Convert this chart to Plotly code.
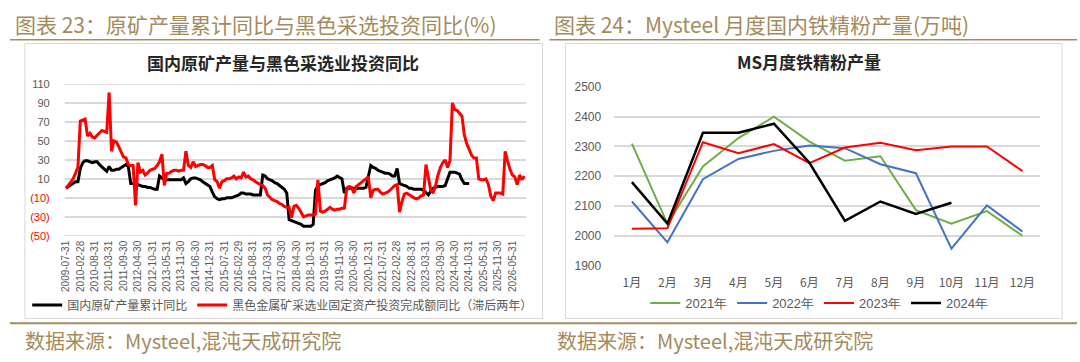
import calendar
import plotly.graph_objects as go

# ---------------- data: left chart ----------------
# monthly categories (Chinese stats skip January, except 2026 in the source file)
def month_end(y, m):
    return f"{y}-{m:02d}-{calendar.monthrange(y, m)[1]:02d}"

dates = []
for yy in range(2009, 2027):
    for mm in range(1, 13):
        if (yy, mm) < (2009, 7) or (yy, mm) > (2026, 10):
            continue
        if mm == 1 and yy != 2026:
            continue
        dates.append(month_end(yy, mm))

tick_labels = ["2009-07-31", "2010-02-28", "2010-08-31", "2011-03-31", "2011-09-30",
               "2012-04-30", "2012-10-31", "2013-05-31", "2013-11-30", "2014-06-30",
               "2014-12-31", "2015-07-31", "2016-02-29", "2016-08-31", "2017-03-31",
               "2017-09-30", "2018-04-30", "2018-10-31", "2019-05-31", "2019-11-30",
               "2020-06-30", "2020-12-31", "2021-07-31", "2022-02-28", "2022-08-31",
               "2023-03-31", "2023-09-30", "2024-04-30", "2024-10-31", "2025-05-31",
               "2025-11-30", "2026-05-31"]

ore_output_yoy = [
    0, 2, 4, 6, 7, 7,
    21, 27, 29, 29, 28, 27, 28, 28, 25, 23, 21,
    18, 23, 19, 19, 20, 20, 22, 23, 25, 23, 5,
    5, 5, 4, 3, 2, 2, 1, 1, 0, -1, -1,
    13, 11, 9, 9, 9, 9, 9, 9, 9, 9, 11,
    5, 7, 10, 11, 11, 10, 9, 7, 5, 3, 2,
    -4, -9, -11, -12, -11, -11, -10, -10, -10, -9, -8,
    -7, -5, -5, -6, -6, -6, -7, -7, -7, -7, 14,
    13, 10, 9, 8, 6, 5, 3, 1, -1, -5, -33,
    -34, -35, -36, -37, -38, -40, -40, -40, -40, -38, -2,
    3, 4, 5, 6, 8, 9, 10, 11, 13, 11, 10,
    -5, 0, 0, 0, 0, 0, 0, 0, 0, 1, 12,
    24, 22, 21, 19, 18, 17, 16, 16, 15, 13, 13,
    21, 5, 4, 3, 2, 0, 0, -1, -1, -1, -1,
    -2, -5, -7, -3, 0, 1, 2, 2, 2, 3, 10,
    17, 17, 17, 16, 15, 9, 5, 5, 5,
]

ferrous_invest_yoy = [
    0, 3, 6, 10, 16, 22,
    71, 72, 73, 55, 58, 54, 53, 56, 59, 61, 60,
    59, 101, 39, 50, 49, 44, 39, 33, 32, 25, 24,
    24, -18, 27, 17, 19, 14, 16, 19, 20, 21, 24,
    28, 36, 3, 16, 16, 18, 19, 19, 18, 19, 19,
    39, 24, 22, 28, 23, 24, 25, 25, 24, 22, 22,
    24, 9, 7, 0, 7, 8, 10, 10, 11, 13, 10,
    12, 11, 17, 12, 13, 10, 9, 7, 5, 4, 3,
    0, -7, -10, -12, -13, -14, -16, -17, -19, -20, -20,
    -31, -19, -18, -21, -25, -30, -29, -28, -28, -28, -27,
    9, -24, -25, -24, -22, -20, -22, -23, -22, -22, -21,
    -21, 0, 2, 1, -5, 2, 4, 5, 8, 9, 12,
    -10, -2, -1, -1, -4, -6, -5, -4, -2, 1, 3,
    4, -25, -14, -6, -5, -7, -9, -10, -11, -10, -8,
    -7, 25, 9, -2, -5, 3, 14, 22, 27, 30, 22,
    29, 90, 83, 82, 79, 76, 56, 47, 41, 35, 32,
    32, 10, 9, 9, 10, 4, -8, -13, -5, -5,
    -5, -6, 39, 29, 20, 14, 12, 4, 14, 9, 13,
]

left_yticks = [-50, -30, -10, 10, 30, 50, 70, 90, 110]

# ---------------- data: right chart ----------------
months = ["1月", "2月", "3月", "4月", "5月", "6月", "7月", "8月", "9月", "10月", "11月", "12月"]
y2021 = [2309, 2040, 2233, 2328, 2400, 2316, 2252, 2267, 2086, 2041, 2083, 2000]
y2022 = [2115, 1978, 2190, 2258, 2285, 2303, 2294, 2240, 2210, 1957, 2102, 2014]
y2023 = [2024, 2025, 2314, 2277, 2308, 2244, 2296, 2312, 2287, 2300, 2300, 2217]
y2024 = [2180, 2041, 2346, 2346, 2376, 2245, 2050, 2115, 2073, 2111]
right_yticks = [1900, 2000, 2100, 2200, 2300, 2400, 2500]

# ---------------- figure ----------------
W, H = 1080, 362
def px(x):
    return x / W
def py(y):
    return 1 - y / H

GOLD = "#A58A5C"
GRID = "#D9D9D9"
TXT = "#595959"
CJK = "Noto Sans CJK SC"
AX_FONT = dict(family="Liberation Sans, Arial", size=11, color=TXT)

fig = go.Figure()

fig.add_trace(go.Scatter(
    x=dates[:len(ore_output_yoy)], y=ore_output_yoy, mode="lines",
    name="国内原矿产量累计同比", line=dict(color="#000000", width=3),
    xaxis="x", yaxis="y", legend="legend"))
fig.add_trace(go.Scatter(
    x=dates[:len(ferrous_invest_yoy)], y=ferrous_invest_yoy, mode="lines",
    name="黑色金属矿采选业固定资产投资完成额同比（滞后两年）",
    line=dict(color="#FF0000", width=3),
    xaxis="x", yaxis="y", legend="legend"))

for name, vals, col, w in [("2021年", y2021, "#70AD47", 2),
                           ("2022年", y2022, "#4472C4", 2),
                           ("2023年", y2023, "#FF0000", 2),
                           ("2024年", y2024, "#000000", 2.5)]:
    fig.add_trace(go.Scatter(
        x=months[:len(vals)], y=vals, mode="lines", name=name,
        line=dict(color=col, width=w), xaxis="x2", yaxis="y2", legend="legend2"))

left_ticktext = [("<span style='color:#FF0000'>(%d)</span>" % -v) if v < 0 else str(v)
                 for v in left_yticks]

fig.update_layout(
    width=W, height=H, margin=dict(l=0, r=0, t=0, b=0),
    paper_bgcolor="white", plot_bgcolor="white",
    font=dict(family=CJK, color=TXT),
    xaxis=dict(domain=[px(60), px(523)], anchor="y", type="category",
               categoryorder="array", categoryarray=dates,
               range=[-0.5, len(dates) - 0.5],
               tickmode="array", tickvals=tick_labels, ticktext=tick_labels,
               tickangle=-90, tickfont=dict(family="Liberation Sans, Arial", size=10, color=TXT),
               showgrid=False, showline=False, zeroline=False, ticks="",
               ticklabelstandoff=2),
    yaxis=dict(domain=[py(238), py(80)], anchor="x", range=[-50, 110],
               tickmode="array", tickvals=left_yticks, ticktext=left_ticktext,
               tickfont=AX_FONT, showgrid=True, gridcolor=GRID, gridwidth=1.5,
               zeroline=False, showline=False, ticks="", ticklabelstandoff=14),
    xaxis2=dict(domain=[px(612), px(1040)], anchor="y2", type="category",
                categoryorder="array", categoryarray=months, range=[-0.5, 11.5],
                tickfont=dict(family=CJK, size=12, color=TXT),
                showgrid=False, showline=False, zeroline=False, ticks="",
                ticklabelstandoff=8),
    yaxis2=dict(domain=[py(269), py(83)], anchor="x2", range=[1900, 2500],
                tickmode="array", tickvals=right_yticks,
                tickfont=dict(family="Liberation Sans, Arial", size=12, color=TXT),
                showgrid=True, gridcolor=GRID, gridwidth=1.5,
                zeroline=False, showline=False, ticks="", ticklabelstandoff=12),
    legend=dict(orientation="h", x=px(279), y=py(310), xanchor="center", yanchor="middle",
                font=dict(family=CJK, size=12, color=TXT), itemwidth=30,
                bgcolor="rgba(0,0,0,0)", tracegroupgap=0, itemclick=False),
    legend2=dict(orientation="h", x=px(818), y=py(308), xanchor="center", yanchor="middle",
                 font=dict(family="Liberation Sans, Arial", size=13, color=TXT), itemwidth=30,
                 bgcolor="rgba(0,0,0,0)", itemclick=False),
    showlegend=True,
)

# chart boxes and gold rules
shapes = [
    dict(type="rect", xref="paper", yref="paper", x0=px(20), x1=px(540), y0=py(324), y1=py(38),
         line=dict(color="#D9D9D9", width=1), layer="below"),
    dict(type="rect", xref="paper", yref="paper", x0=px(563), x1=px(1062), y0=py(324), y1=py(38),
         line=dict(color="#D9D9D9", width=1), layer="below"),
    dict(type="line", xref="paper", yref="paper", x0=px(5), x1=px(537), y0=py(34), y1=py(34),
         line=dict(color=GOLD, width=1.5)),
    dict(type="line", xref="paper", yref="paper", x0=px(547), x1=px(1077), y0=py(34), y1=py(34),
         line=dict(color=GOLD, width=1.5)),
    dict(type="line", xref="paper", yref="paper", x0=px(5), x1=px(1077), y0=py(329), y1=py(329),
         line=dict(color=GOLD, width=2)),
]
# left-chart gridlines at the y tick values, placed between grid layer and traces
for v in left_yticks:
    shapes.append(dict(type="line", xref="paper", yref="y", x0=px(60), x1=px(523),
                       y0=v, y1=v, line=dict(color=GRID, width=1.5), layer="between"))
fig.update_layout(shapes=shapes)

annotations = [
    dict(text="图表 23：原矿产量累计同比与黑色采选投资同比(%)", x=px(8), y=py(18),
         xanchor="left", yanchor="middle", font=dict(family=CJK, size=21, color=GOLD)),
    dict(text="图表 24：Mysteel 月度国内铁精粉产量(万吨)", x=px(550), y=py(18),
         xanchor="left", yanchor="middle", font=dict(family=CJK, size=21, color=GOLD)),
    dict(text="<b>国内原矿产量与黑色采选业投资同比</b>", x=px(279), y=py(58),
         xanchor="center", yanchor="middle", font=dict(family=CJK, size=17, color="#262626")),
    dict(text="<b>MS月度铁精粉产量</b>", x=px(808), y=py(57),
         xanchor="center", yanchor="middle", font=dict(family=CJK, size=17, color="#262626")),
    dict(text="数据来源：Mysteel,混沌天成研究院", x=px(18), y=py(347),
         xanchor="left", yanchor="middle", font=dict(family=CJK, size=20, color=GOLD)),
    dict(text="数据来源：Mysteel,混沌天成研究院", x=px(553), y=py(347),
         xanchor="left", yanchor="middle", font=dict(family=CJK, size=20, color=GOLD)),
]
for a in annotations:
    a.update(xref="paper", yref="paper", showarrow=False)
fig.update_layout(annotations=annotations)

fig.write_html("out.html")
